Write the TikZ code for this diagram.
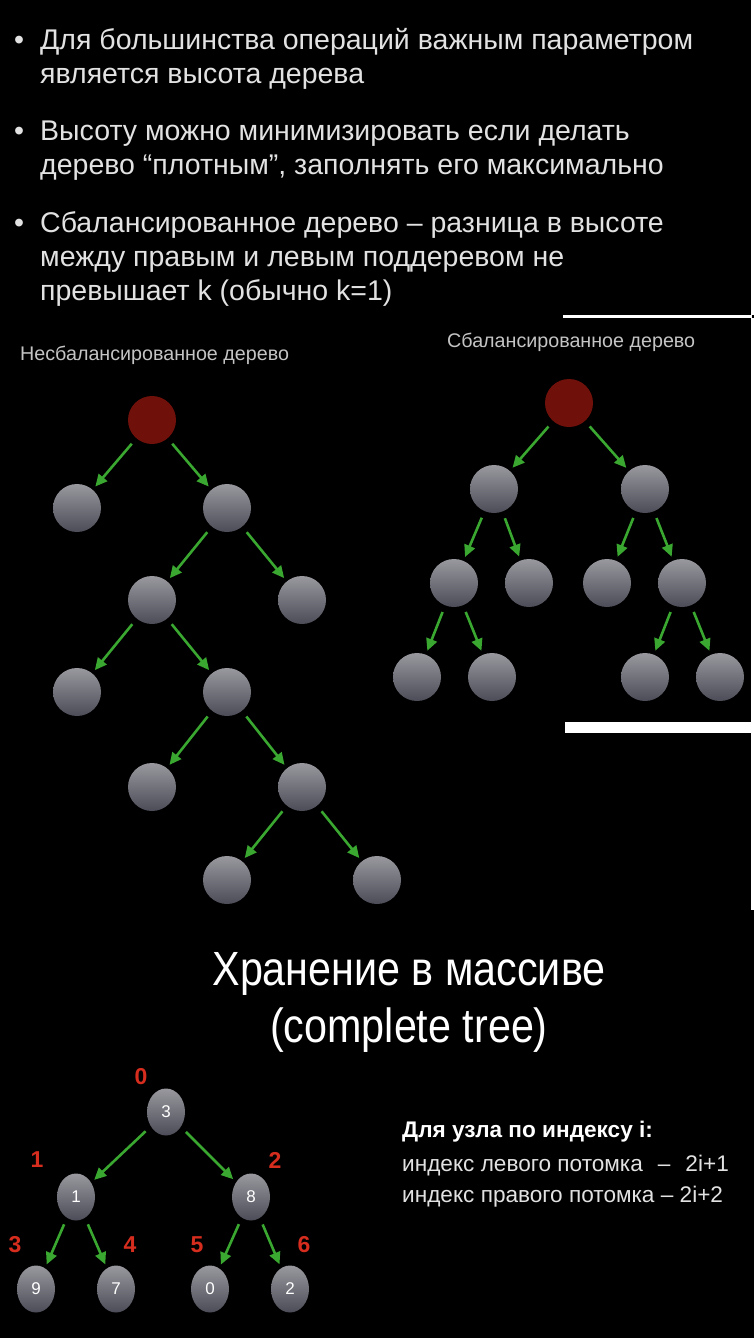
\documentclass[tikz,border=0pt]{standalone}
\usepackage{fontspec}
\setmainfont{Liberation Sans}
\newfontfamily\narrowfont[FakeStretch=0.86]{Liberation Sans}
\usetikzlibrary{arrows.meta,shapes.geometric}
\definecolor{arrowgreen}{RGB}{58,168,48}
\definecolor{rootred}{RGB}{112,16,10}
\definecolor{idxred}{RGB}{215,45,30}
\definecolor{ballhi}{RGB}{152,152,158}
\definecolor{balllo}{RGB}{76,76,88}
\definecolor{txtgray}{RGB}{226,226,226}
\definecolor{subgray}{RGB}{196,196,196}
\tikzset{
  ball/.style={circle, minimum size=48pt, inner sep=0pt, top color=ballhi, bottom color=balllo},
  rootball/.style={circle, minimum size=48pt, inner sep=0pt, fill=rootred},
  numball/.style={ellipse, minimum width=38pt, minimum height=47pt, inner sep=0pt,
    top color=ballhi, bottom color=balllo, text=white, font=\fontsize{17}{17}\selectfont},
  kid/.style={-{Triangle[length=12pt,width=11pt]}, line width=2.6pt, arrowgreen,
    shorten <=7pt, shorten >=4pt},
  idx/.style={text=idxred, font=\bfseries\fontsize{23}{23}\selectfont, inner sep=0pt},
  bullettext/.style={anchor=base west, align=left, inner sep=0pt, text=txtgray,
    font=\fontsize{28.5}{34}\selectfont},
  subtitle/.style={anchor=base west, inner sep=0pt, text=subgray, font=\fontsize{19.7}{20}\selectfont},
  ruletext/.style={anchor=base west, inner sep=0pt, text=txtgray, font=\fontsize{22.6}{23}\selectfont},
  headline/.style={anchor=base, inner sep=0pt, text=white, font=\narrowfont\fontsize{48}{48}\selectfont},
}
\begin{document}
\begin{tikzpicture}[x=1pt, y=-1pt]
  \useasboundingbox (0,0) rectangle (754,1338);
  \fill[black] (0,0) rectangle (754,1338);
  % white strips of the screenshot
  \fill[white] (563,315) rectangle (752,318);
  \fill[white] (565,722) rectangle (754,733);
  \fill[white] (751,0) rectangle (754,315);
  \fill[white] (751,318) rectangle (754,722);
  \fill[white] (751,733) rectangle (754,910);

  % bullets (base = last line)
  \node[bullettext] (dot1) at (14,50) {•};
  \node[bullettext] (line1) at (40,84) {Для большинства операций важным параметром\\является высота дерева};
  \node[bullettext] (dot2) at (14,140) {•};
  \node[bullettext] (line2) at (40,174) {Высоту можно минимизировать если делать\\дерево “плотным”, заполнять его максимально};
  \node[bullettext] (dot3) at (14,232) {•};
  \node[bullettext] (line3) at (40,300) {Сбалансированное дерево – разница в высоте\\между правым и левым поддеревом не\\превышает k (обычно k=1)};

  \node[subtitle] (ltitle) at (20,360) {Несбалансированное дерево};
  \node[subtitle] (rtitle) at (447,347) {Сбалансированное дерево};

  % unbalanced tree
  \node[rootball] (u0) at (152,420) {};
  \node[ball] (u1) at (77,508) {};
  \node[ball] (u2) at (227,508) {};
  \node[ball] (u3) at (152,600) {};
  \node[ball] (u4) at (302,600) {};
  \node[ball] (u5) at (77,692) {};
  \node[ball] (u6) at (227,692) {};
  \node[ball] (u7) at (152,787) {};
  \node[ball] (u8) at (302,787) {};
  \node[ball] (u9) at (227,880) {};
  \node[ball] (u10) at (377,880) {};
  \draw[kid] (u0) -- (u1);
  \draw[kid] (u0) -- (u2);
  \draw[kid] (u2) -- (u3);
  \draw[kid] (u2) -- (u4);
  \draw[kid] (u3) -- (u5);
  \draw[kid] (u3) -- (u6);
  \draw[kid] (u6) -- (u7);
  \draw[kid] (u6) -- (u8);
  \draw[kid] (u8) -- (u9);
  \draw[kid] (u8) -- (u10);

  % balanced tree
  \node[rootball] (b0) at (569,403) {};
  \node[ball] (b1) at (494,489) {};
  \node[ball] (b2) at (645,489) {};
  \node[ball] (b3) at (454,583) {};
  \node[ball] (b4) at (529,583) {};
  \node[ball] (b5) at (607,583) {};
  \node[ball] (b6) at (682,583) {};
  \node[ball] (b7) at (417,677) {};
  \node[ball] (b8) at (492,677) {};
  \node[ball] (b9) at (645,677) {};
  \node[ball] (b10) at (720,677) {};
  \draw[kid] (b0) -- (b1);
  \draw[kid] (b0) -- (b2);
  \draw[kid] (b1) -- (b3);
  \draw[kid] (b1) -- (b4);
  \draw[kid] (b2) -- (b5);
  \draw[kid] (b2) -- (b6);
  \draw[kid] (b3) -- (b7);
  \draw[kid] (b3) -- (b8);
  \draw[kid] (b6) -- (b9);
  \draw[kid] (b6) -- (b10);

  % array storage
  \node[headline] (head1) at (409,985) {Хранение в массиве};
  \node[headline] (head2) at (409,1042) {(complete tree)};

  \node[numball] (c0) at (166,1112) {3};
  \node[numball] (c1) at (76,1197) {1};
  \node[numball] (c2) at (251,1197) {8};
  \node[numball] (c3) at (36,1289) {9};
  \node[numball] (c4) at (116,1289) {7};
  \node[numball] (c5) at (210,1289) {0};
  \node[numball] (c6) at (290,1289) {2};
  \draw[kid] (c0) -- (c1);
  \draw[kid] (c0) -- (c2);
  \draw[kid] (c1) -- (c3);
  \draw[kid] (c1) -- (c4);
  \draw[kid] (c2) -- (c5);
  \draw[kid] (c2) -- (c6);
  \node[idx] (i0) at (141,1077) {0};
  \node[idx] (i1) at (37,1160) {1};
  \node[idx] (i2) at (275,1160) {2};
  \node[idx] (i3) at (15,1245) {3};
  \node[idx] (i4) at (130,1245) {4};
  \node[idx] (i5) at (197,1245) {5};
  \node[idx] (i6) at (304,1245) {6};

  \node[ruletext, text=white, font=\bfseries\fontsize{22.6}{23}\selectfont] (rule0) at (402,1137) {Для узла по индексу i:};
  \node[ruletext] (rule1) at (402,1171) {индекс левого потомка\hspace{15pt}–\hspace{15pt}2i+1};
  \node[ruletext] (rule2) at (402,1202) {индекс правого потомка – 2i+2};
\end{tikzpicture}
\end{document}
